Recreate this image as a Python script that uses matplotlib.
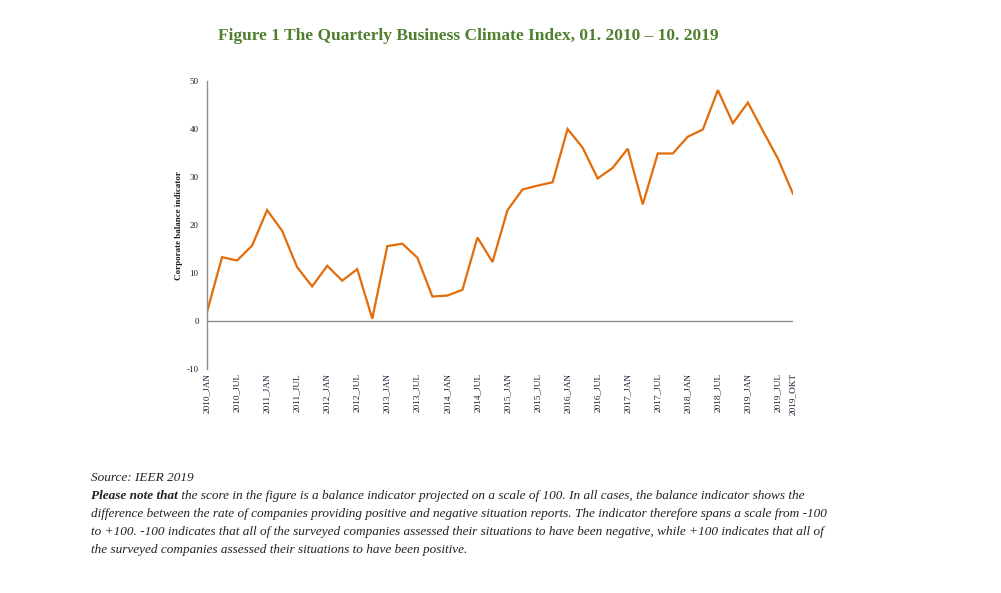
import matplotlib
matplotlib.use("Agg")
import matplotlib.pyplot as plt

periods = [f"{y}_{q}" for y in range(2010, 2020) for q in ["JAN", "APR", "JUL", "OKT"]]
values = [1.9, 13.3, 12.6, 15.7, 23.1, 18.8, 11.2, 7.2, 11.5, 8.4,
          10.8, 0.5, 15.6, 16.1, 13.2, 5.1, 5.3, 6.5, 17.4, 12.3,
          23.1, 27.4, 28.2, 28.9, 40.0, 36.1, 29.7, 31.9, 35.9, 24.3,
          34.9, 34.9, 38.4, 39.9, 48.1, 41.2, 45.5, 39.6, 33.8, 26.5]
y_ticks = [-10, 0, 10, 20, 30, 40, 50]
title = "Figure 1 The Quarterly Business Climate Index, 01. 2010 \u2013 10. 2019"
y_label = "Corporate balance indicator"
source = "Source: IEER 2019"
note_bold = "Please note that"
note_lines = [
    " the score in the figure is a balance indicator projected on a scale of 100. In all cases, the balance indicator shows the",
    "difference between the rate of companies providing positive and negative situation reports. The indicator therefore spans a scale from -100",
    "to +100. -100 indicates that all of the surveyed companies assessed their situations to have been negative, while +100 indicates that all of",
    "the surveyed companies assessed their situations to have been positive.",
]

serif = "Liberation Serif"
W, H = 1001, 593
fig = plt.figure(figsize=(W / 100, H / 100), dpi=100)
ax = fig.add_axes([207 / W, 1 - 369 / H, (793 - 207) / W, (369 - 81) / H])

x = list(range(len(values)))
ax.plot(x, values, color="#E36C0A", lw=1.6, solid_joinstyle="miter")
ax.axhline(0, color="#8c8c8c", lw=1.0)
ax.set_xlim(0, len(values) - 1)
ax.set_ylim(-10, 50)
ax.set_yticks(y_ticks)
ax.set_yticklabels([str(v) for v in y_ticks], fontfamily=serif, fontsize=6.5, color="#1a1a33")

tick_pos = [i for i, p in enumerate(periods) if p.endswith("_JAN") or p.endswith("_JUL")] + [len(periods) - 1]
ax.set_xticks(tick_pos)
ax.set_xticklabels([periods[i] for i in tick_pos], rotation=90, fontfamily=serif, fontsize=6.7, color="#1a1a33")
ax.tick_params(length=0, pad=6)
ax.tick_params(axis="x", pad=3)
for s in ["top", "right", "bottom"]:
    ax.spines[s].set_visible(False)
ax.spines["left"].set_color("#8c8c8c")
ax.spines["left"].set_linewidth(1.0)

ax.set_ylabel(y_label, fontfamily=serif, fontsize=6.5, fontweight="bold", color="#1a1a1a")
ax.yaxis.set_label_coords((183 - 207) / 586, (369 - 226) / 288)

fig.text(468 / W, 1 - 36 / H, title, ha="center", va="center", fontfamily=serif,
         fontsize=12.5, fontweight="bold", color="#4f7f2f")

fs = 9.5
tc = "#222222"
fig.text(91 / W, 1 - 478 / H, source, ha="left", va="center", fontfamily=serif, fontsize=fs, style="italic", color=tc)
t_bold = fig.text(91 / W, 1 - 496 / H, note_bold, ha="left", va="center", fontfamily=serif, fontsize=fs,
                  style="italic", fontweight="bold", color=tc)
fig.canvas.draw()
bb = t_bold.get_window_extent(renderer=fig.canvas.get_renderer())
fig.text(bb.x1 / W, 1 - 496 / H, note_lines[0], ha="left", va="center", fontfamily=serif, fontsize=fs,
         style="italic", color=tc)
for k, line in enumerate(note_lines[1:]):
    fig.text(91 / W, 1 - (514 + 18 * k) / H, line, ha="left", va="center", fontfamily=serif, fontsize=fs,
             style="italic", color=tc)

fig.savefig("out.png", dpi=100)
